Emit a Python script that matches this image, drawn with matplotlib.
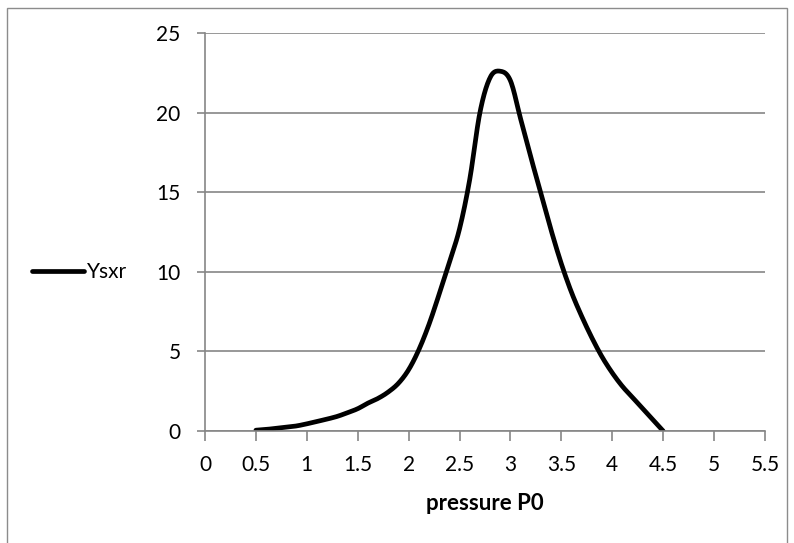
import numpy as np
import matplotlib
matplotlib.use("Agg")
import matplotlib.pyplot as plt
from matplotlib.patches import Rectangle

pressure = [0.5, 0.6, 0.7, 0.8, 0.9, 1.0, 1.1, 1.2, 1.3, 1.4, 1.5, 1.6, 1.7, 1.8, 1.9,
            2.0, 2.1, 2.2, 2.3, 2.4, 2.5, 2.6, 2.7, 2.8, 2.9, 3.0, 3.1, 3.2, 3.3, 3.4,
            3.5, 3.6, 3.7, 3.8, 3.9, 4.0, 4.1, 4.2, 4.3, 4.4, 4.5]
ysxr = [0.05, 0.1, 0.17, 0.24, 0.32, 0.45, 0.6, 0.75, 0.92, 1.15, 1.4, 1.75, 2.05, 2.45, 3.0,
        3.85, 5.1, 6.7, 8.6, 10.6, 12.7, 15.8, 20.0, 22.2, 22.6, 22.0, 19.6, 17.2, 14.9, 12.6,
        10.5, 8.7, 7.2, 5.85, 4.65, 3.65, 2.8, 2.1, 1.4, 0.7, 0.0]
xticks = [0, 0.5, 1, 1.5, 2, 2.5, 3, 3.5, 4, 4.5, 5, 5.5]
xticklabels = ["0", "0.5", "1", "1.5", "2", "2.5", "3", "3.5", "4", "4.5", "5", "5.5"]
yticks = [0, 5, 10, 15, 20, 25]


def smooth(x, y, n=12):
    # Catmull-Rom display smoothing (like a spreadsheet "smoothed line")
    x = np.asarray(x, float); y = np.asarray(y, float)
    px = np.concatenate([[2 * x[0] - x[1]], x, [2 * x[-1] - x[-2]]])
    py = np.concatenate([[2 * y[0] - y[1]], y, [2 * y[-1] - y[-2]]])
    t = np.linspace(0, 1, n, endpoint=False)
    ox, oy = [], []
    for i in range(1, len(px) - 2):
        for arr, out in ((px, ox), (py, oy)):
            p0, p1, p2, p3 = arr[i - 1], arr[i], arr[i + 1], arr[i + 2]
            out.extend(0.5 * (2 * p1 + (-p0 + p2) * t + (2 * p0 - 5 * p1 + 4 * p2 - p3) * t ** 2
                              + (-p0 + 3 * p1 - 3 * p2 + p3) * t ** 3))
    ox.append(x[-1]); oy.append(y[-1])
    return np.array(ox), np.array(oy)


plt.rcParams['font.family'] = ['Lato', 'DejaVu Sans']
fig = plt.figure(figsize=(7.94, 5.43), dpi=100)
fig.patches.append(Rectangle((7 / 794, -0.01), 780 / 794, 1 - 8 / 543 + 0.01,
                             transform=fig.transFigure, fill=False,
                             edgecolor='#8c8c8c', linewidth=1.0))
ax = fig.add_axes([205 / 794, 1 - 431 / 543, 560 / 794, 398 / 543])

sx, sy = smooth(pressure, ysxr)
line, = ax.plot(sx, sy, color='black', linewidth=3.4, solid_capstyle='round', label='Ysxr')

ax.set_xlim(0, 5.5)
ax.set_ylim(0, 25)
ax.set_xticks(xticks)
ax.set_xticklabels(xticklabels)
ax.set_yticks(yticks)
ax.yaxis.grid(True, color='#868686', linewidth=1.2)
ax.set_axisbelow(True)
for s in ('top', 'right'):
    ax.spines[s].set_visible(False)
for s in ('left', 'bottom'):
    ax.spines[s].set_color('#868686')
    ax.spines[s].set_linewidth(1.2)
ax.tick_params(axis='x', direction='out', length=7, width=1.2, color='#868686',
               labelsize=15, pad=10)
ax.tick_params(axis='y', direction='out', length=6, width=1.2, color='#868686',
               labelsize=15, pad=11.5)
ax.set_xlabel('pressure P0', fontsize=16, fontweight='bold', labelpad=13)

ax.legend(handles=[line], loc='center left', bbox_to_anchor=(24 / 794, 1 - 272 / 543),
          bbox_transform=fig.transFigure,
          frameon=False, fontsize=15, handlelength=2.5, handletextpad=0.1,
          borderaxespad=0)

fig.savefig('out.png', dpi=100)
